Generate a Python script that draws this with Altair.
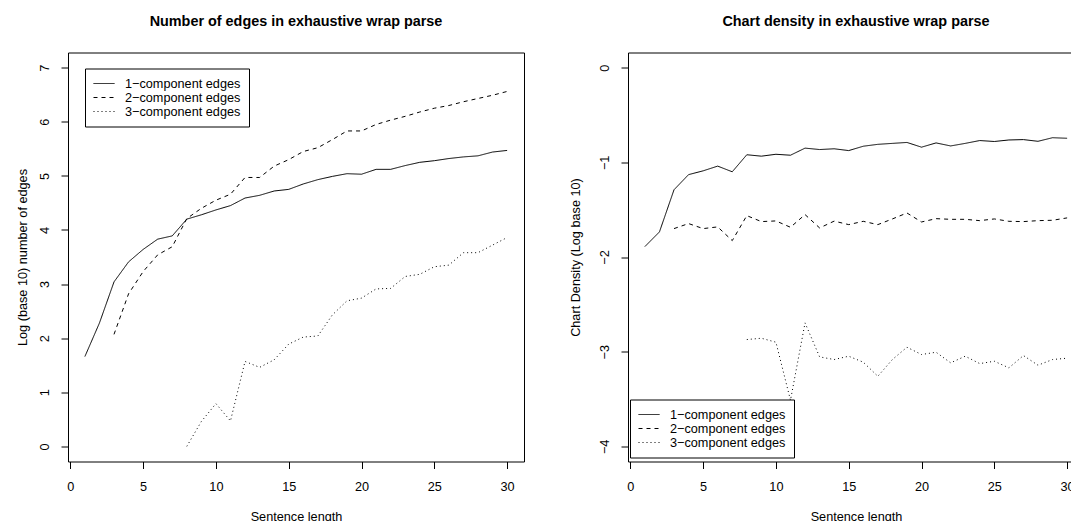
import altair as alt
import pandas as pd

FONT = "Liberation Sans"
BASE = 12.7
TITLE_SIZE = 14.4

# Sentence lengths (x values)
lengths = [1, 2, 3, 4, 5, 6, 7, 8, 9, 10, 11, 12, 13, 14, 15,
           16, 17, 18, 19, 20, 21, 22, 23, 24, 25, 26, 27, 28, 29, 30]

series_names = ["1\u2212component edges", "2\u2212component edges", "3\u2212component edges"]

# Left panel: log10 number of edges
edges_1 = [1.66, 2.28, 3.04, 3.41, 3.64, 3.83, 3.89, 4.20, 4.28, 4.37, 4.45, 4.59, 4.64, 4.72, 4.75,
           4.85, 4.93, 4.99, 5.04, 5.03, 5.12, 5.12, 5.19, 5.25, 5.28, 5.32, 5.35, 5.37, 5.44, 5.47]
edges_2 = [None, None, 2.07, 2.82, 3.23, 3.54, 3.69, 4.21, 4.40, 4.55, 4.66, 4.97, 4.97, 5.18, 5.30,
           5.45, 5.52, 5.67, 5.83, 5.83, 5.95, 6.03, 6.10, 6.18, 6.25, 6.30, 6.37, 6.43, 6.49, 6.56]
edges_3 = [None, None, None, None, None, None, None, 0.00, 0.46, 0.79, 0.47, 1.57, 1.46, 1.60, 1.89,
           2.02, 2.04, 2.43, 2.69, 2.74, 2.91, 2.92, 3.14, 3.18, 3.32, 3.35, 3.58, 3.58, 3.72, 3.86]

# Right panel: chart density (log10)
density_1 = [-1.890, -1.735, -1.290, -1.130, -1.090, -1.040, -1.100, -0.920, -0.935, -0.915,
             -0.925, -0.850, -0.865, -0.857, -0.876, -0.830, -0.810, -0.800, -0.790, -0.840,
             -0.795, -0.827, -0.800, -0.770, -0.780, -0.764, -0.760, -0.778, -0.740, -0.746]
density_2 = [None, None, -1.700, -1.647, -1.700, -1.682, -1.827, -1.563, -1.626, -1.619,
             -1.686, -1.552, -1.693, -1.621, -1.658, -1.623, -1.658, -1.598, -1.535, -1.630,
             -1.595, -1.602, -1.602, -1.616, -1.598, -1.623, -1.626, -1.616, -1.612, -1.587]
density_3 = [None, None, None, None, None, None, None, -2.872, -2.858, -2.900,
             -3.513, -2.696, -3.055, -3.083, -3.048, -3.111, -3.260, -3.083, -2.953, -3.030,
             -3.006, -3.118, -3.048, -3.126, -3.101, -3.171, -3.041, -3.143, -3.083, -3.069]

x_ticks = [0, 5, 10, 15, 20, 25, 30]
left_y_ticks = [0, 1, 2, 3, 4, 5, 6, 7]
right_y_ticks = [0, -1, -2, -3, -4]
dash_styles = [[1, 0], [4, 4], [1, 3]]


def long_df(*series):
    rows = []
    for name, vals in zip(series_names, series):
        for t, v in zip(lengths, vals):
            if v is not None:
                rows.append({"length": t, "value": v, "series": name})
    return pd.DataFrame(rows)


def panel(df, title, ytitle, ydomain, yticks, lx, ly, ytitle_x):
    x = alt.X("length:Q",
              scale=alt.Scale(domain=[-0.16, 31.16], nice=False, zero=False),
              axis=alt.Axis(values=x_ticks, title="Sentence length", domain=False, grid=False,
                            tickSize=7, tickColor="black", labelColor="black",
                            labelFont=FONT, labelFontSize=BASE, labelBaseline="alphabetic",
                            labelPadding=22, titleFont=FONT, titleFontSize=BASE,
                            titleFontWeight="normal", titleColor="black",
                            titleBaseline="alphabetic", titleY=58.5))
    y = alt.Y("value:Q",
              scale=alt.Scale(domain=ydomain, nice=False, zero=False),
              axis=alt.Axis(values=yticks, title=ytitle, domain=False, grid=False,
                            tickSize=7, tickColor="black", labelColor="black",
                            labelFont=FONT, labelFontSize=BASE, labelAngle=270,
                            labelAlign="center", labelBaseline="alphabetic", labelPadding=13,
                            titleFont=FONT, titleFontSize=BASE, titleFontWeight="normal",
                            titleColor="black", titleAngle=270, titleBaseline="alphabetic",
                            titleX=ytitle_x))
    sd = alt.StrokeDash("series:N",
                        scale=alt.Scale(domain=series_names, range=dash_styles),
                        legend=alt.Legend(title=None, orient="none", legendX=lx, legendY=ly,
                                          symbolType="stroke", symbolSize=441,
                                          symbolStrokeWidth=1, symbolStrokeColor="black",
                                          labelFont=FONT, labelFontSize=BASE, labelColor="black",
                                          labelOffset=10, padding=8, rowPadding=0, clipHeight=14,
                                          strokeColor="black", fillColor="white",
                                          labelLimit=300))
    return (alt.Chart(df)
            .mark_line(color="black", strokeWidth=1)
            .encode(x=x, y=y, strokeDash=sd)
            .properties(width=456, height=409,
                        title=alt.TitleParams(title, font=FONT, fontSize=TITLE_SIZE,
                                              fontWeight="bold", color="black",
                                              baseline="alphabetic", offset=12,
                                              anchor="middle")))


left = panel(long_df(edges_1, edges_2, edges_3),
             "Number of edges in exhaustive wrap parse",
             "Log (base 10) number of edges", [-0.28, 7.28], left_y_ticks, 17, 16, -42)
right = panel(long_df(density_1, density_2, density_3),
              "Chart density in exhaustive wrap parse",
              "Chart Density (Log base 10)", [-4.16, 0.16], right_y_ticks, 2, 347, -48.5)

chart = (alt.hconcat(left, right, spacing=44)
         .resolve_scale(strokeDash="independent", x="independent", y="independent")
         .properties(padding={"left": 15, "top": 13.5, "right": -14, "bottom": 0},
                     background="white")
         .configure_view(stroke="black", strokeWidth=1))

chart.save("out.html", embed_options={"renderer": "svg", "actions": False})
